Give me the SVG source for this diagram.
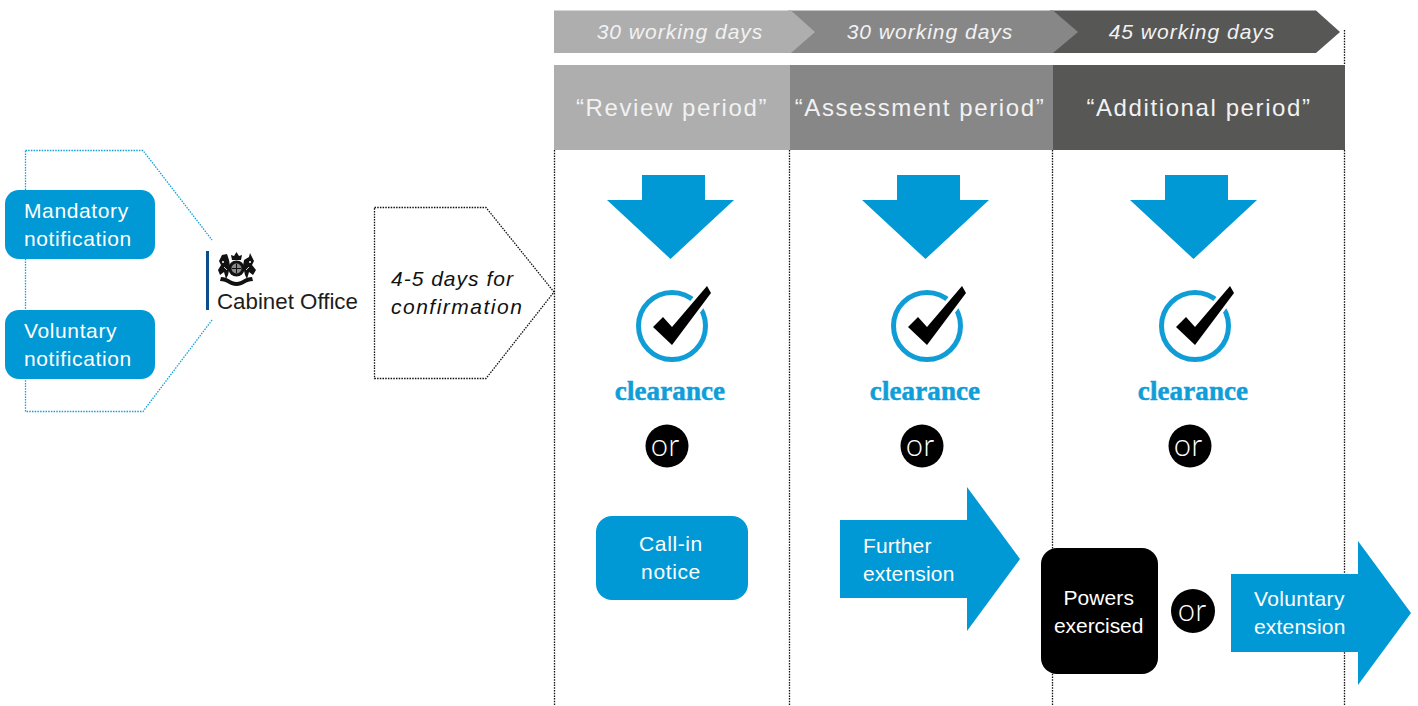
<svg xmlns="http://www.w3.org/2000/svg" width="1418" height="706" viewBox="0 0 1418 706">
<style>
text{font-family:"Liberation Sans",Arial,sans-serif}
.w{fill:#fff;font-size:21px;letter-spacing:.62px}
.mid{text-anchor:middle}
.days{fill:#f2f2f2;font-size:21px;font-style:italic;letter-spacing:1px;text-anchor:middle}
.per{fill:#f2f2f2;font-size:24px;letter-spacing:1.6px;text-anchor:middle}
.blue{fill:#0099d5}
.clr{fill:#0f9ed8;font-family:"Liberation Serif",serif;font-weight:bold;font-size:27px;letter-spacing:.1px;stroke:#0f9ed8;stroke-width:.5px;text-anchor:middle}
.or{fill:#fff;font-family:"Lato",sans-serif;font-weight:300;font-size:31px;text-anchor:middle}
.dot{fill:none;stroke:#111;stroke-width:1.300;stroke-dasharray:1.500 1.200}
.cy{fill:none;stroke:#149fd8;stroke-width:1.300;stroke-dasharray:1.500 1.200}
</style>
<defs>
<g id="big"><path class="blue" d="M35 0H98V25H127L63.500 84L0 25H35Z"/></g>
<g id="tick">
<circle cx="35" cy="35" r="33.500" fill="none" stroke="#109dd6" stroke-width="5"/>
<path d="M16 36L26 26L35 36L70 -5L74 2L35 54Z" fill="#fff" stroke="#fff" stroke-width="6"/>
<path d="M16 36L26 26L35 36L70 -5L74 2L35 54Z" fill="#000"/>
</g>
</defs>

<g id="connectors">
<path class="cy" d="M25.500 150.500H143L212 240"/>
<path class="cy" d="M212 320L143 411.500H25.500V150.500"/>
<path class="dot" d="M554.500 150V706M789.500 150V706M1052.500 150V706M1344.500 150V706M1344.500 30V65"/>
</g>

<g id="timeline">
<path fill="#575756" d="M1050 10.500H1316L1340 32L1316 53H1050Z"/>
<path fill="#878787" d="M788 10.500H1053L1078 32L1053 53H788Z"/>
<path fill="#aeaeae" d="M554 10.500H791L815 32L791 53H554Z"/>
<text class="days" x="680" y="39">30 working days</text>
<text class="days" x="930" y="39">30 working days</text>
<text class="days" x="1192" y="39">45 working days</text>
</g>

<g id="head-review"><rect x="554" y="65" width="236" height="85" fill="#aeaeae"/><text class="per" x="672" y="116">“Review period”</text></g>
<g id="head-assessment"><rect x="790" y="65" width="263" height="85" fill="#878787"/><text class="per" x="920" y="116">“Assessment period”</text></g>
<g id="head-additional"><rect x="1053" y="65" width="292" height="85" fill="#575756"/><text class="per" x="1199" y="116">“Additional period”</text></g>

<g id="mandatory"><rect class="blue" x="5" y="190" width="150" height="69" rx="14"/><text class="w" x="24" y="218">Mandatory</text><text class="w" x="24" y="246">notification</text></g>
<g id="voluntary"><rect class="blue" x="5" y="310" width="150" height="69" rx="14"/><text class="w" x="24" y="338">Voluntary</text><text class="w" x="24" y="366">notification</text></g>

<g id="cabinet-office">
<rect x="206" y="251" width="3" height="59" fill="#0b4c8c"/>
<g fill="#111">
<path d="M232 260L231 255L234 256L236.500 252L239 256L242 255L241 260Z"/>
<circle cx="236.500" cy="268.500" r="8"/>
<circle cx="236.500" cy="268.500" r="5" fill="#8a8a8a"/>
<path d="M236.500 264V273M232 268.500H241" stroke="#111" stroke-width="1"/>
<path d="M222 255L227 254L229 260L230 266L228 275L226 279L224 272L220 275L218 270L221 265L219 261Z"/>
<path d="M250 253L249 257L244 260L243 266L245 275L247 279L249 272L253 275L256 270L252 265L254 261Z"/>
<path d="M221 277C228 277 231 282 236.500 282C242 282 245 277 252 277L253 281C246 281 243 286 236.500 286C230 286 227 281 220 281Z"/>
<circle cx="223" cy="262" r="1" fill="#fff"/><circle cx="250" cy="262" r="1" fill="#fff"/>
<path d="M224 267L227 270M249 267L246 270" stroke="#fff" stroke-width=".8"/>
</g>
<text x="217" y="309" fill="#1d1d1b" font-size="22.300">Cabinet Office</text>
</g>

<g id="confirmation">
<path class="dot" d="M374.500 207.500H486L554 292L486 378.500H374.500Z"/>
<text x="391" y="286" font-size="21" font-style="italic" letter-spacing="1" fill="#111">4-5 days for</text>
<text x="391" y="314" font-size="21" font-style="italic" letter-spacing="1.500" fill="#111">confirmation</text>
</g>

<g id="col-review">
<use href="#big" x="607" y="175"/>
<use href="#tick" x="637" y="291"/>
<text class="clr" x="670" y="400">clearance</text>
<circle cx="667" cy="446" r="21.500" fill="#000"/><text class="or" x="665" y="456">or</text>
</g>
<g id="col-assessment">
<use href="#big" x="862" y="175"/>
<use href="#tick" x="892" y="291"/>
<text class="clr" x="925" y="400">clearance</text>
<circle cx="922" cy="446" r="21.500" fill="#000"/><text class="or" x="920" y="456">or</text>
</g>
<g id="col-additional">
<use href="#big" x="1130" y="175"/>
<use href="#tick" x="1160" y="291"/>
<text class="clr" x="1193" y="400">clearance</text>
<circle cx="1190" cy="446" r="21.500" fill="#000"/><text class="or" x="1188" y="456">or</text>
</g>

<g id="call-in"><rect class="blue" x="596" y="516" width="152" height="84" rx="16"/><text class="w mid" x="671" y="551">Call-in</text><text class="w mid" x="671" y="579">notice</text></g>
<g id="further"><path class="blue" d="M840 520H967V487L1020 559L967 631V598H840Z"/><text class="w" x="863" y="553" textLength="69">Further</text><text class="w" x="863" y="581" textLength="92">extension</text></g>
<g id="powers"><rect x="1041" y="548" width="117" height="126" rx="16" fill="#000"/><text class="w mid" x="1099" y="605" textLength="71">Powers</text><text class="w mid" x="1099" y="633" textLength="90">exercised</text></g>
<g id="or-final"><circle cx="1193" cy="611" r="22" fill="#000"/><text class="or" x="1192" y="621">or</text></g>
<g id="vol-ext"><path class="blue" d="M1231 574H1358V541L1411 613L1358 685V652H1231Z"/><text class="w" x="1254" y="606" textLength="91">Voluntary</text><text class="w" x="1254" y="634" textLength="92">extension</text></g>
</svg>
